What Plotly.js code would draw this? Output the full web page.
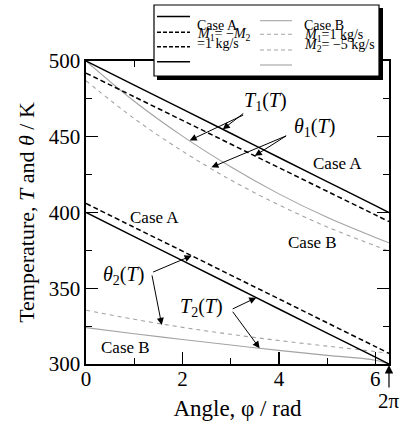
<!DOCTYPE html>
<html>
<head>
<meta charset="utf-8">
<script src="https://cdn.plot.ly/plotly-3.0.1.min.js"></script>
<style>html,body{margin:0;padding:0;background:#fff;}#chart{width:404px;height:426px;}</style>
</head>
<body>
<div id="chart"></div>
<script>
// ---- data ----
const phi = [0, 1, 2, 3, 4, 5, 6, 6.283];
// Case A: M1 = -M2 = 1 kg/s
const T1_caseA     = [500, 484.1, 468.2, 452.3, 436.3, 420.4, 404.5, 400];
const theta1_caseA = [492, 476.4, 460.8, 445.2, 429.6, 414, 398.4, 394];
const T2_caseA     = [400, 384.1, 368.2, 352.3, 336.3, 320.4, 304.5, 300];
const theta2_caseA = [406, 390.2, 374.5, 358.7, 343, 327.2, 311.5, 307];
// Case B: M1 = 1 kg/s, M2 = -5 kg/s
const T1_caseB     = [500, 473.4, 450.4, 430.2, 412.3, 396.8, 383.5, 380];
const theta1_caseB = [487, 462, 440.5, 421.5, 405, 390.5, 378, 374.5];
const T2_caseB     = [324, 320, 316.2, 312.5, 309, 305.7, 302.5, 300];
const theta2_caseB = [335.5, 329.5, 324.2, 319.6, 315.5, 311.8, 308.2, 307];

const xTickVals = [0, 2, 4, 6];
const xMinorVals = [1, 3, 5];
const yTickVals = [300, 350, 400, 450, 500];
const yMinorVals = [325, 375, 425, 475];

// ---- styling helpers ----
const FONT = "'Liberation Serif', 'Times New Roman', Times, serif";
const BLACK = '#000000';
const GREY = '#a3a3a3';
const L = 86, R = 389, T = 61, B = 364;
const W = R - L, H = B - T;
const fx = px => (px - L) / W;
const fy = py => (B - py) / H;

function tr(y, color, width, dash) {
  return {x: phi, y: y, type: 'scatter', mode: 'lines', hoverinfo: 'skip',
          line: {color: color, width: width, dash: dash, shape: 'spline', smoothing: 1}};
}
const traces = [
  tr(T1_caseB, GREY, 1.1, 'solid'),
  tr(theta1_caseB, GREY, 1.1, '4px,4px'),
  tr(T2_caseB, GREY, 1.1, 'solid'),
  tr(theta2_caseB, GREY, 1.1, '4px,4px'),
  tr(T1_caseA, BLACK, 1.5, 'solid'),
  tr(theta1_caseA, BLACK, 1.5, '5px,3px'),
  tr(T2_caseA, BLACK, 1.5, 'solid'),
  tr(theta2_caseA, BLACK, 1.5, '5px,3px')
];

// legend frame and keys (paper coords from pixel positions)
function seg(x0, x1, y, color, width, dash) {
  return {type: 'line', xref: 'paper', yref: 'paper', x0: fx(x0), x1: fx(x1), y0: fy(y), y1: fy(y),
          line: {color: color, width: width, dash: dash}, layer: 'above'};
}
const shapes = [
  {type: 'rect', xref: 'paper', yref: 'paper', x0: fx(157), x1: fx(383), y0: fy(80), y1: fy(8),
   fillcolor: BLACK, line: {width: 0}, layer: 'above'},
  {type: 'rect', xref: 'paper', yref: 'paper', x0: fx(154), x1: fx(379), y0: fy(76), y1: fy(5),
   fillcolor: '#ffffff', line: {color: BLACK, width: 1.2}, layer: 'above'},
  seg(157, 190, 16.5, BLACK, 1.5, 'solid'),
  seg(157, 190, 32.3, BLACK, 1.5, '4px,2px'),
  seg(157, 190, 46.7, BLACK, 1.5, '4px,2px'),
  seg(157, 190, 61.7, BLACK, 1.5, 'solid'),
  seg(260, 292, 20.7, GREY, 1.1, 'solid'),
  seg(260, 292, 34.3, GREY, 1.1, '4px,3px'),
  seg(260, 292, 50, GREY, 1.1, '4px,3px'),
  seg(260, 292, 65, GREY, 1.1, 'solid')
];

function legText(px, py, text) {
  return {xref: 'paper', yref: 'paper', x: fx(px), y: fy(py), text: text, showarrow: false,
          xanchor: 'left', yanchor: 'middle', font: {family: FONT, size: 14, color: BLACK}};
}
function label(x, y, text, size) {
  return {xref: 'x', yref: 'y', x: x, y: y, text: text, showarrow: false,
          xanchor: 'center', yanchor: 'middle', font: {family: FONT, size: size, color: BLACK}};
}
function arrow(x, y, ax, ay) {
  return {xref: 'x', yref: 'y', x: x, y: y, ax: ax, ay: ay, text: '', showarrow: true,
          arrowhead: 2, arrowsize: 1.4, arrowwidth: 1, arrowcolor: BLACK, standoff: 0};
}

const annotations = [
  legText(195, 25.3, 'Case A'),
  legText(195, 34.3, '<i>M</i><sub>1</sub>= −<i>M</i><sub>2</sub>'),
  legText(195, 43.7, '=1 kg/s'),
  legText(302, 25.3, 'Case B'),
  legText(302, 35, '<i>M</i><sub>1</sub>=1 kg/s'),
  legText(302, 45.5, '<i>M</i><sub>2</sub>= −5 kg/s'),

  label(3.73, 473, '<i>T</i><sub>1</sub>(<i>T</i>)', 20),
  label(4.74, 456, '<i>θ</i><sub>1</sub>(<i>T</i>)', 20),
  label(5.22, 432.5, 'Case A', 17),
  label(4.70, 380.5, 'Case B', 17),
  label(1.41, 396.5, 'Case A', 17),
  label(0.81, 311, 'Case B', 17),
  label(0.77, 358.5, '<i>θ</i><sub>2</sub>(<i>T</i>)', 20),
  label(2.40, 337.5, '<i>T</i><sub>2</sub>(<i>T</i>)', 20),

  arrow(2.836, 454.9, 22, -17),
  arrow(2.15, 447.6, 55, -26),
  arrow(3.50, 437.4, 33, -21),
  arrow(2.60, 429.8, 76, -32),
  arrow(2.19, 371.5, -40, 17),
  arrow(1.57, 325.8, -10, -51),
  arrow(3.53, 343.8, -25, 12),
  arrow(3.60, 310.4, -28, -38),

  {xref: 'x', yref: 'paper', x: 6.283, y: 0, ax: 0, ay: 37, text: '2π', showarrow: true,
   arrowhead: 2, arrowsize: 1.4, arrowwidth: 1.2, arrowcolor: BLACK, standoff: 1,
   font: {family: FONT, size: 21, color: BLACK}}
];

const minorCommon = {ticks: 'inside', ticklen: 6, tickwidth: 1.2, tickcolor: BLACK, showgrid: false};
const axisCommon = {
  showline: true, linecolor: BLACK, linewidth: 1.6, mirror: 'ticks',
  ticks: 'inside', ticklen: 12, tickwidth: 1.4, tickcolor: BLACK,
  showgrid: false, zeroline: false,
  tickfont: {family: FONT, size: 21, color: BLACK}
};

const layout = {
  width: 404, height: 426,
  margin: {l: L, r: 404 - R, t: T, b: 426 - B},
  paper_bgcolor: '#ffffff', plot_bgcolor: '#ffffff',
  showlegend: false,
  font: {family: FONT, color: BLACK},
  xaxis: Object.assign({}, axisCommon, {
    range: [0, 6.2832], tickmode: 'array', tickvals: xTickVals,
    minor: Object.assign({tickmode: 'array', tickvals: xMinorVals}, minorCommon),
    ticklabelstandoff: -5,
    title: {text: 'Angle, φ / rad', font: {family: FONT, size: 23, color: BLACK}, standoff: 10}
  }),
  yaxis: Object.assign({}, axisCommon, {
    range: [300, 500], tickmode: 'array', tickvals: yTickVals,
    minor: Object.assign({tickmode: 'array', tickvals: yMinorVals}, minorCommon),
    title: {text: 'Temperature, <i>T</i> and <i>θ</i> / K', font: {family: FONT, size: 22, color: BLACK}, standoff: 8}
  }),
  shapes: shapes,
  annotations: annotations
};

Plotly.newPlot('chart', traces, layout, {displayModeBar: false, staticPlot: true});
</script>
</body>
</html>
